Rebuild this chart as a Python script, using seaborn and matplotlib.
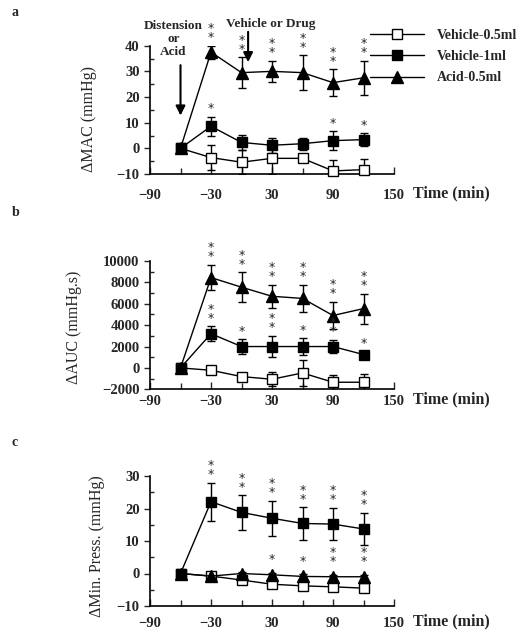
import matplotlib
matplotlib.use("Agg")
import matplotlib.pyplot as plt
import seaborn as sns

# time points (min)
time = [-60, -30, 0, 30, 60, 90, 120]

# panel a: delta MAC (mmHg)
a_veh05 = [0, -3.6, -5.4, -3.9, -3.9, -8.8, -8.3]
a_veh05_err = [0, 5.0, 4.6, 6.0, 1.5, 4.4, 4.3]
a_veh1 = [0, 8.6, 2.3, 1.2, 1.8, 3.0, 3.4]
a_veh1_err = [0, 3.7, 2.8, 3.0, 2.4, 3.6, 2.4]
a_acid = [0, 37.5, 29.5, 30.0, 29.5, 25.6, 27.5]
a_acid_err = [0, 2.5, 6.0, 4.2, 6.8, 5.3, 6.7]
a_veh1_sig = ["", "*", "", "", "", "*", "*"]
a_acid_sig = ["", "**", "**", "**", "**", "**", "**"]

# panel b: delta AUC (mmHg.s)
b_veh05 = [0, -220, -810, -1060, -470, -1340, -1340]
b_veh05_err = [0, 250, 300, 650, 1250, 700, 800]
b_veh1 = [0, 3200, 2000, 2000, 2000, 2000, 1250]
b_veh1_err = [0, 700, 700, 1000, 800, 650, 300]
b_acid = [0, 8450, 7550, 6700, 6500, 4900, 5550]
b_acid_err = [0, 1200, 1400, 1100, 1300, 1300, 1400]
b_veh1_sig = ["", "**", "*", "**", "*", "**", "*"]
b_acid_sig = ["", "**", "**", "**", "**", "**", "**"]

# panel c: delta min. pressure (mmHg)
c_veh05 = [0, -0.8, -2.0, -3.3, -3.8, -4.1, -4.5]
c_veh05_err = [0, 0.4, 0.5, 0.6, 0.6, 0.5, 0.5]
c_veh1 = [0, 22.1, 18.8, 17.0, 15.4, 15.2, 13.7]
c_veh1_err = [0, 5.8, 5.3, 5.4, 5.0, 5.0, 5.0]
c_acid = [0, -0.8, 0.0, -0.4, -0.9, -1.0, -1.0]
c_acid_err = [0, 0.5, 0.6, 0.7, 0.6, 0.6, 0.6]
c_veh1_sig = ["", "**", "**", "**", "**", "**", "**"]
c_acid_sig = ["", "", "", "*", "*", "**", "**"]

labels = ["Vehicle-0.5ml", "Vehicle-1ml", "Acid-0.5ml"]
xticks = [-90, -30, 30, 90, 150]

sns.set_style("ticks")
plt.rcParams["font.family"] = ["Liberation Serif", "DejaVu Serif"]

fig = plt.figure(figsize=(5.23, 6.40), dpi=100)
W, H = 523, 640


def make_ax(top_px, bottom_px):
    return fig.add_axes([150 / W, 1 - bottom_px / H, 244 / W, (bottom_px - top_px) / H])


def draw_series(ax, y, err, marker, face, size, label):
    ax.errorbar(time, y, yerr=err, fmt="none", ecolor="k", elinewidth=1,
                capsize=3, capthick=1, zorder=2)
    sns.lineplot(x=time, y=y, ax=ax, color="k", marker=marker, markersize=size,
                 markerfacecolor=face, markeredgecolor="k", markeredgewidth=1,
                 linewidth=1, clip_on=False, zorder=3, label=label)


def stars(ax, y, err, sig, pad):
    for t, v, e, s in zip(time, y, err, sig):
        if s:
            ax.annotate("\n".join(s), (t, v + e), xytext=(0, pad), textcoords="offset points",
                        ha="center", va="bottom", fontsize=9, family="DejaVu Sans",
                        linespacing=0.6, annotation_clip=False)


def style_ax(ax, ylim, ystep, ylabel, lab_xy, xpad):
    ax.set_xlim(-90, 150)
    ax.set_ylim(*ylim)
    ax.set_xticks(xticks)
    ax.set_xticks([-60, 0, 60, 120], minor=True)
    ax.set_yticks(range(ylim[0], ylim[1] + 1, ystep))
    ax.set_yticks(range(ylim[0] + ystep // 2, ylim[1], ystep), minor=True)
    ax.tick_params(axis="x", which="major", direction="in", length=5, width=1, pad=xpad)
    ax.tick_params(axis="x", which="minor", direction="in", length=4, width=1)
    ax.tick_params(axis="y", which="major", direction="out", length=4, width=1)
    ax.tick_params(axis="y", which="minor", direction="in", length=3, width=1)
    for lb in ax.get_xticklabels() + ax.get_yticklabels():
        lb.set_fontweight("bold")
        lb.set_fontsize(10.5)
    sns.despine(ax=ax)
    for sp in ["left", "bottom"]:
        ax.spines[sp].set_linewidth(1.2)
        ax.spines[sp].set_color("k")
    ax.set_xlabel("")
    ax.set_ylabel(ylabel, fontsize=11.5)
    ax.yaxis.set_label_coords(*lab_xy)
    if ax.get_legend():
        ax.get_legend().remove()


# ---- panel a
ax_a = make_ax(45.7, 174)
draw_series(ax_a, a_veh05, a_veh05_err, "s", "white", 6.5, labels[0])
draw_series(ax_a, a_veh1, a_veh1_err, "s", "k", 7, labels[1])
draw_series(ax_a, a_acid, a_acid_err, "^", "k", 8.5, labels[2])
stars(ax_a, a_veh1, a_veh1_err, a_veh1_sig, 1)
stars(ax_a, a_acid, a_acid_err, a_acid_sig, 1)
style_ax(ax_a, (-10, 40), 10, "ΔMAC (mmHg)", (-0.217, 0.43), 11)
handles, _ = ax_a.get_legend_handles_labels()
fig.legend(handles[:3], labels, loc="upper left", bbox_to_anchor=(0.694, 0.966),
           frameon=False, handlelength=3.9, handletextpad=0.9, labelspacing=0.6,
           borderpad=0, prop={"weight": "bold", "size": 10})
ax_a.annotate("", xy=(-60, 11.7), xytext=(-60, 33.5),
              arrowprops=dict(arrowstyle="-|>", color="k", lw=1.5, mutation_scale=14),
              annotation_clip=False)
ax_a.annotate("", xy=(6.5, 32.5), xytext=(6.5, 46.5),
              arrowprops=dict(arrowstyle="-|>", color="k", lw=1.5, mutation_scale=14),
              annotation_clip=False)
ax_a.text(-67, 42.5, "Distension\nor\nAcid", ha="center", va="center", fontsize=9.5,
          fontweight="bold", linespacing=1.1, clip_on=False)
ax_a.text(29, 48.4, "Vehicle or Drug", ha="center", va="center", fontsize=9.5,
          fontweight="bold", clip_on=False)

# ---- panel b
ax_b = make_ax(261, 389.3)
draw_series(ax_b, b_veh05, b_veh05_err, "s", "white", 6.5, labels[0])
draw_series(ax_b, b_veh1, b_veh1_err, "s", "k", 7, labels[1])
draw_series(ax_b, b_acid, b_acid_err, "^", "k", 8.5, labels[2])
stars(ax_b, b_veh1, b_veh1_err, b_veh1_sig, 1)
stars(ax_b, b_acid, b_acid_err, b_acid_sig, 1)
style_ax(ax_b, (-2000, 10000), 2000, "ΔAUC (mmHg.s)", (-0.28, 0.48), 4)

# ---- panel c
ax_c = make_ax(476, 606)
draw_series(ax_c, c_veh05, c_veh05_err, "s", "white", 6.5, labels[0])
draw_series(ax_c, c_veh1, c_veh1_err, "s", "k", 7, labels[1])
draw_series(ax_c, c_acid, c_acid_err, "^", "k", 8.5, labels[2])
stars(ax_c, c_veh1, c_veh1_err, c_veh1_sig, 1)
stars(ax_c, c_acid, c_acid_err, c_acid_sig, 5)
style_ax(ax_c, (-10, 30), 10, "ΔMin. Press. (mmHg)", (-0.184, 0.46), 8)

# x labels and panel letters
for ax, ypx, letter, lpx in [(ax_a, 193, "a", 13), (ax_b, 399, "b", 213),
                             (ax_c, 621, "c", 442)]:
    ax.text(413 / W, 1 - ypx / H, "Time (min)", transform=fig.transFigure, ha="left",
            va="center", fontsize=11.5, fontweight="bold")
    fig.text(12 / W, 1 - lpx / H, letter, ha="left", va="center", fontsize=10,
             fontweight="bold")

fig.savefig("out.png", dpi=100)
